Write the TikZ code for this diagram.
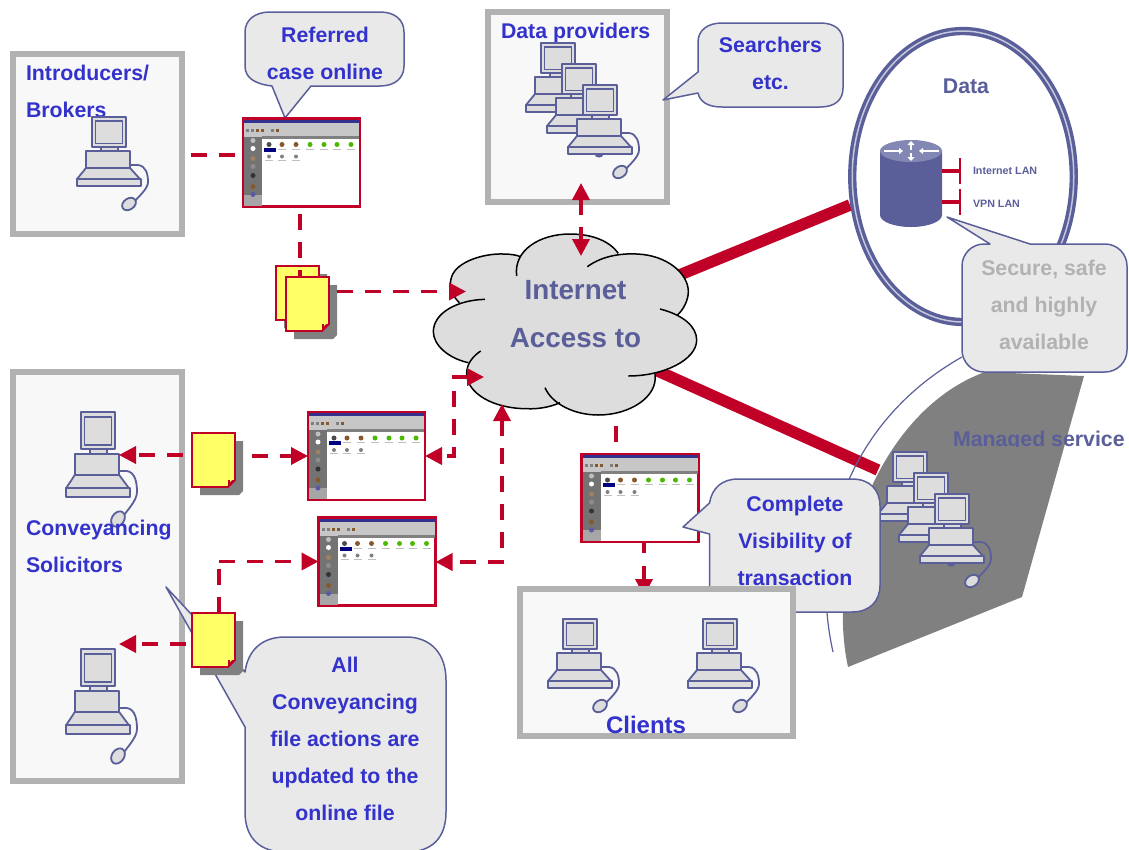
\documentclass[tikz,border=0pt]{standalone}
\usepackage{fontspec}
\setmainfont{Liberation Sans}
\usetikzlibrary{arrows.meta,shapes.geometric,calc}
\definecolor{rd}{HTML}{C00027}
\definecolor{ink}{HTML}{5A5F9A}
\definecolor{txtblue}{HTML}{3333CC}
\definecolor{boxgray}{HTML}{B2B2B2}
\definecolor{boxfill}{HTML}{F8F8F8}
\definecolor{pcfill}{HTML}{DDDDDD}
\definecolor{callfill}{HTML}{E9E9E9}
\definecolor{dropgray}{HTML}{808080}
\definecolor{docy}{HTML}{FFFF66}
\tikzset{
  framebox/.style={draw=boxgray,line width=6pt,fill=boxfill,inner sep=0pt,outer sep=0pt},
  thumbbox/.style={draw=rd,line width=2.2pt,fill=white,inner sep=0pt,outer sep=0pt,anchor=north west,minimum width=117pt,minimum height=88pt},
  docbox/.style={inner sep=0pt,outer sep=0pt,anchor=north west,minimum width=43pt,minimum height=54pt},
  lbl/.style={font=\fontsize{21.3}{37}\selectfont\bfseries,text=txtblue,inner sep=0pt,outer sep=0pt,align=center},
  lbll/.style={lbl,align=left,anchor=north west},
  grey label/.style={lbl,text=boxgray},
  ink label/.style={lbl,text=ink},
  callout/.style={draw=ink,line width=1.5pt,fill=callfill,line join=round},
  dash line/.style={draw=rd,line width=3.6pt,dash pattern=on 16pt off 12pt},
  tip line/.style={dash line,-{Triangle[length=17pt,width=17pt]}},
  both line/.style={dash line,{Triangle[length=17pt,width=17pt]}-{Triangle[length=17pt,width=17pt]}},
  fat line/.style={draw=rd,line width=11.5pt},
  pcline/.style={draw=ink,line width=1.8pt,fill=pcfill,line join=round},
  pics/pcbody/.style={code={
    \draw[pcline] (9,30) rectangle (26,34);
    \draw[pcline] (0,0) rectangle (34,30);
    \draw[pcline] (3.5,4) rectangle (30.5,26.5);
    \draw[pcline] (-6,51) -- (38,51) -- (48,62) -- (-15,62) -- cycle;
    \draw[pcline] (-15,62) rectangle (49,69);
    \node[pcline,transform shape,inner sep=0pt,outer sep=0pt,minimum width=44pt,minimum height=17pt] (-base) at (16,42.5) {};
  }},
  pics/pccable/.style={code={
    \draw[draw=ink,line width=1.8pt] (38,48) -- (46,48) .. controls (54,49) and (56,57) .. (56,65) .. controls (56,72) and (46,80) .. (43,84);
    \draw[pcline,shift={(37,87)},rotate=35] (0,0) ellipse [x radius=7.5pt,y radius=5.5pt];
  }},
}
\newcommand{\thumbart}[2]{%
 \begin{scope}[shift={(#1,#2)}]
  \fill[blue!45!black!80] (1,1) rectangle (116,4);
  \fill[black!22] (1,4) rectangle (116,18);
  \foreach \q/\c in {3/gray,8/gray,13/brown!70!black,18/brown!70!black,28/gray,33/brown!70!black}{\fill[\c] (\q,10) rectangle ++(3,3);}
  \fill[black!55] (1,18) rectangle (19,76);
  \fill[black!35] (1,76) rectangle (19,87);
  \fill[black!50] (19,17) rectangle (116,20);
  \foreach \q/\c in {22/black!25,30/white,40/brown!50!gray,48/black!45,57/black!80,68/brown!70!black,76/blue!30!gray}{\fill[\c] (10,\q) circle[radius=2.5pt];}
  \fill[blue!50!black] (21,29) rectangle (33,33);
  \fill[black!70] (26,26) circle[radius=2.5pt];
  \foreach \q in {39,53}{\fill[brown!70!black] (\q,26) circle[radius=2.5pt];\fill[gray!50] (\q-4,30) rectangle ++(8,1);}
  \foreach \q in {67,81,94,108}{\fill[green!60!black!70!yellow] (\q,26) circle[radius=2.5pt];\fill[gray!50] (\q-4,30) rectangle ++(8,1);}
  \foreach \q in {26,39,53}{\fill[gray] (\q,38) circle[radius=2pt];\fill[gray!50] (\q-4,41) rectangle ++(8,1);}
 \end{scope}}
\newcommand{\docart}[2]{%
 \fill[dropgray] (#1+8,#2+8) -- (#1+51,#2+8) -- (#1+51,#2+58) -- (#1+47,#2+62) -- (#1+8,#2+62) -- cycle;
 \draw[draw=rd,line width=1.8pt,fill=docy,line join=miter] (#1,#2) -- (#1+43,#2) -- (#1+43,#2+47) -- (#1+36,#2+54) -- (#1,#2+54) -- cycle;
 \fill[rd] (#1+43,#2+47) -- (#1+36,#2+47) -- (#1+36,#2+54) -- cycle;
 \fill[docy] (#1+38,#2+47) -- (#1+38,#2+49) -- (#1+40,#2+47) -- cycle;}
\begin{document}
\begin{tikzpicture}[x=1pt,y=-1pt]
\useasboundingbox (0,0) rectangle (1129,849);
\fill[white] (0,0) rectangle (1129,849);
% named free ends
\coordinate (cA) at (660,283);
\coordinate (dA) at (850,205);
\coordinate (cB) at (640,363);
\coordinate (gB) at (878,470);
% fat links
\draw[fat line] (cA) -- (dA);
\draw[fat line] (cB) -- (gB);
% managed service
\fill[dropgray] (848,667) .. controls (825,560) and (880,410) .. (985,372) -- (1084,376) -- (1022,597) -- cycle;
\draw[ink,line width=1.2pt] (833,652) .. controls (808,540) and (850,420) .. (962,357);
\begin{scope}
 \clip (940,425) rectangle (1129,446.5);
 \node[ink label,anchor=base west] (managed) at (953,446) {Managed service};
\end{scope}
\pic (m1) at (893,452) {pcbody};
\pic (m2) at (914,473) {pcbody};
\fill[ink] (935+16,494+70) ellipse [x radius=4pt,y radius=2.5pt];
\pic (m3) at (935,494) {pcbody};
\pic (m3c) at (935,494) {pccable};
% data ring
\node[draw=ink,line width=3.4pt,double=ink!35!white,double distance=1.5pt,fill=white,ellipse,inner sep=0pt,outer sep=0pt,minimum width=221.5pt,minimum height=291pt] (ring) at (963,176.5) {};
\node[ink label] (datalbl) at (966,86) {Data};
\fill[ink] (880,151) -- (880,215) arc[start angle=180,end angle=360,x radius=31pt,y radius=12pt] -- (942,151) -- cycle;
\fill[ink!75!white] (911,151) ellipse [x radius=31pt,y radius=11pt];
\draw[white,line width=1.6pt,-{Triangle[length=4pt,width=6pt]}] (884,151) -- (903,151);
\draw[white,line width=1.6pt,-{Triangle[length=4pt,width=6pt]}] (939,151) -- (919,151);
\draw[white,line width=2.4pt,-{Triangle[length=4pt,width=7pt]}] (911,149.5) -- (911,141);
\draw[white,line width=2.4pt,-{Triangle[length=4pt,width=7pt]}] (911,153) -- (911,161);
\coordinate (rtr1) at (942,171);
\coordinate (rtr2) at (942,202);
\coordinate (lan1) at (960,171);
\coordinate (lan2) at (960,202);
\draw[rd,line width=4pt] (rtr1) -- (lan1);
\draw[rd,line width=4pt] (rtr2) -- (lan2);
\draw[rd,line width=1.5pt] (960,158) -- (960,184);
\draw[rd,line width=1.5pt] (960,189) -- (960,215);
\node[ink label,font=\fontsize{10.7}{13}\selectfont\bfseries,anchor=west] (inetlan) at (973,171) {Internet LAN};
\node[ink label,font=\fontsize{10.7}{13}\selectfont\bfseries,anchor=west] (vpnlan) at (973,204) {VPN LAN};
% callout Secure
\draw[callout] (947,217) -- (1030,244) -- (1105,244) arc[start angle=90,end angle=0,radius=22pt] -- (1127,350) arc[start angle=0,end angle=-90,radius=22pt] -- (984,372) arc[start angle=-90,end angle=-180,radius=22pt] -- (962,266) arc[start angle=180,end angle=90,radius=22pt] -- (990,244) -- cycle;
\node[grey label] (secure) at (1044,305) {Secure, safe\\and highly\\available};
% frames
\node[framebox,minimum width=168.7pt,minimum height=179.4pt] (intro) at (97.65,144) {};
\node[lbll] (introlbl) at (26,65) {Introducers/\\Brokers};
\pic (pc1) at (92,117) {pcbody};
\pic (pc1c) at (92,117) {pccable};
% referred callout
\draw[callout] (285,118) -- (311,86) -- (380,86) .. controls (395,86) and (404,78) .. (404,66) -- (404,32) .. controls (404,20) and (395,12) .. (380,12) -- (270,12) .. controls (255,12) and (245,20) .. (245,32) -- (245,66) .. controls (245,78) and (255,84) .. (272,86) -- cycle;
\node[lbl] (referred) at (325,53) {Referred\\case online};
% thumb 1
\node[thumbbox] (th1) at (243,118.5) {};
\thumbart{243}{118.5}
\coordinate (i1) at (191,155);
\draw[dash line] (i1) -- (th1.west |- i1);
% stack
\docart{276}{266}
\coordinate (s1) at (300,213.5);
\coordinate (s2) at (300,277);
\draw[dash line] (s1) -- (s2);
\docart{286}{277}
\node[docbox] (doc1) at (286,277) {};
% data providers
\node[framebox,minimum width=179.3pt,minimum height=189.7pt] (prov) at (577.35,106.85) {};
\node[lbll] (provlbl) at (501,23) {Data providers};
\pic (d1) at (541,43) {pcbody};
\pic (d2) at (562,64) {pcbody};
\fill[ink] (583+16,85+70) ellipse [x radius=4pt,y radius=2.5pt];
\pic (d3) at (583,85) {pcbody};
\pic (d3c) at (583,85) {pccable};
% searchers
\draw[callout] (663,100) -- (698,72) -- (698,42) .. controls (698,30) and (708,23) .. (722,23) -- (820,23) .. controls (835,23) and (843,30) .. (843,42) -- (843,88) .. controls (843,100) and (835,107) .. (820,107) -- (722,107) .. controls (708,107) and (700,102) .. (698,93) -- cycle;
\node[lbl] (search) at (770.5,63) {Searchers\\etc.};
% solicitors
\node[framebox,minimum width=168.7pt,minimum height=408.7pt] (sol) at (97.65,576.65) {};
\pic[shift={(81,412)},yscale=1.23] (pc2) {pcbody};
\pic[shift={(81,412)},yscale=1.23] (pc2c) {pccable};
\pic[shift={(81,649)},yscale=1.23] (pc3) {pcbody};
\pic[shift={(81,649)},yscale=1.23] (pc3c) {pccable};
\node[lbll] (sollbl) at (26,520) {Conveyancing\\Solicitors};
% All callout
\draw[callout] (166,587) -- (245,672) .. controls (248,650) and (262,637) .. (285,637) -- (406,637) .. controls (432,637) and (446,655) .. (446,680) -- (446,812) .. controls (446,838) and (432,852) .. (406,852) -- (285,852) .. controls (260,852) and (245,838) .. (245,812) -- (245,727) -- cycle;
\node[lbl] (allc) at (345,739) {All\\Conveyancing\\file actions are\\updated to the\\online file};
% thumbs 2,3
\node[thumbbox] (th2) at (308,412) {};
\thumbart{308}{412}
\node[thumbbox] (th3) at (318.5,517.5) {};
\thumbart{318.5}{517.5}
% docs 2,3
\docart{192}{433}
\node[docbox] (doc2) at (192,433) {};
\coordinate (e1) at (183,455);
\coordinate (e2) at (252,456);
\draw[tip line] (e1) -- (pc2-base.east |- e1);
\draw[tip line] (e2) -- (th2.west |- e2);
\coordinate (f1) at (219,613);
\coordinate (f2) at (219,561.5);
\coordinate (f3) at (186,644);
\draw[dash line] (f1) -- (f2);
\draw[tip line] (f2) -- (th3.west |- f2);
\draw[tip line] (f3) -- (pc3-base.east |- f3);
\docart{192}{613}
\node[docbox] (doc3) at (192,613) {};
% cloud
\begin{scope}[shift={(420,170)},x=0.33333pt,y=-0.33333pt]
 \def\lobeA{(290,318) .. controls (280,240) and (360,192) .. (450,192) .. controls (520,192) and (570,215) .. (595,250)}
 \def\lobeB{(502,290) .. controls (550,255) and (610,250) .. (650,252) .. controls (740,255) and (805,310) .. (805,365) .. controls (805,390) and (790,420) .. (772,435)}
 \def\lobeC{(720,417) .. controls (790,435) and (830,470) .. (830,510) .. controls (830,570) and (730,618) .. (625,618)}
 \def\lobeD{(705,612) .. controls (715,680) and (630,735) .. (535,735) .. controls (460,735) and (395,700) .. (375,653)}
 \def\lobeE{(420,698) .. controls (390,712) and (350,718) .. (320,716) .. controls (220,716) and (140,670) .. (140,610) .. controls (140,580) and (160,558) .. (182,543)}
 \def\lobeF{(145,578) .. controls (85,565) and (40,525) .. (40,485) .. controls (40,430) and (110,390) .. (195,388)}
 \def\lobeG{(118,398) .. controls (95,375) and (85,350) .. (95,320) .. controls (110,275) and (190,250) .. (250,252) .. controls (270,252) and (290,255) .. (302,260)}
 \fill[pcfill] (118,398) -- (300,258) -- (595,250) -- (772,435) -- (705,612) -- (420,698) -- (145,578) -- cycle;
 \foreach \L in {\lobeA,\lobeB,\lobeC,\lobeD,\lobeE,\lobeF,\lobeG}{\fill[pcfill] \L -- cycle;}
 \foreach \L in {\lobeA,\lobeB,\lobeC,\lobeD,\lobeE,\lobeF,\lobeG}{\draw[black,line width=1.5pt] \L;}
\end{scope}
\node[ink label,font=\fontsize{27.8}{48}\selectfont\bfseries] (cloud) at (575.5,314.5) {Internet\\Access to};
% cloud connectors
\coordinate (k1) at (337,291.5);
\coordinate (k2) at (466,291.5);
\draw[tip line] (k1) -- (k2);
\coordinate (k3) at (581,183);
\coordinate (k4) at (581,256);
\draw[both line] (k3) -- (k4);
\coordinate (k5) at (484,377);
\coordinate (k6) at (454,377);
\coordinate (k7) at (454,456);
\draw[both line] (k5) -- (k6) -- (k7) -- (th2.east |- k7);
\coordinate (k8) at (502,404);
\coordinate (k9) at (502,562);
\draw[both line] (k8) -- (k9) -- (th3.east |- k9);
% client thumb
\node[thumbbox] (th4) at (581.5,454) {};
\thumbart{581.5}{454}
\coordinate (k10) at (616,426);
\draw[dash line] (k10) -- (th4.north -| k10);
\coordinate (k11) at (644,543);
\coordinate (k12) at (644,596);
\draw[tip line,dash pattern=on 10pt off 13pt on 30pt off 0pt] (k11) -- (k12);
% complete callout
\draw[callout] (683,527) -- (709.5,503) .. controls (712,488) and (722,479) .. (738,479) -- (852,479) .. controls (870,479) and (880,490) .. (880,506) -- (880,585) .. controls (880,601) and (870,612) .. (852,612) -- (738,612) -- (709.5,612) -- (709.5,534) -- cycle;
\node[lbl] (complete) at (795,541) {Complete\\Visibility of\\transaction};
% clients
\node[framebox,minimum width=273pt,minimum height=147pt] (cli) at (656.5,662.5) {};
\pic (c1) at (563,619) {pcbody};
\pic (c1c) at (563,619) {pccable};
\pic (c2) at (703,619) {pcbody};
\pic (c2c) at (703,619) {pccable};
\node[lbl,font=\fontsize{24}{30}\selectfont\bfseries] (clilbl) at (646,725) {Clients};
\end{tikzpicture}
\end{document}
